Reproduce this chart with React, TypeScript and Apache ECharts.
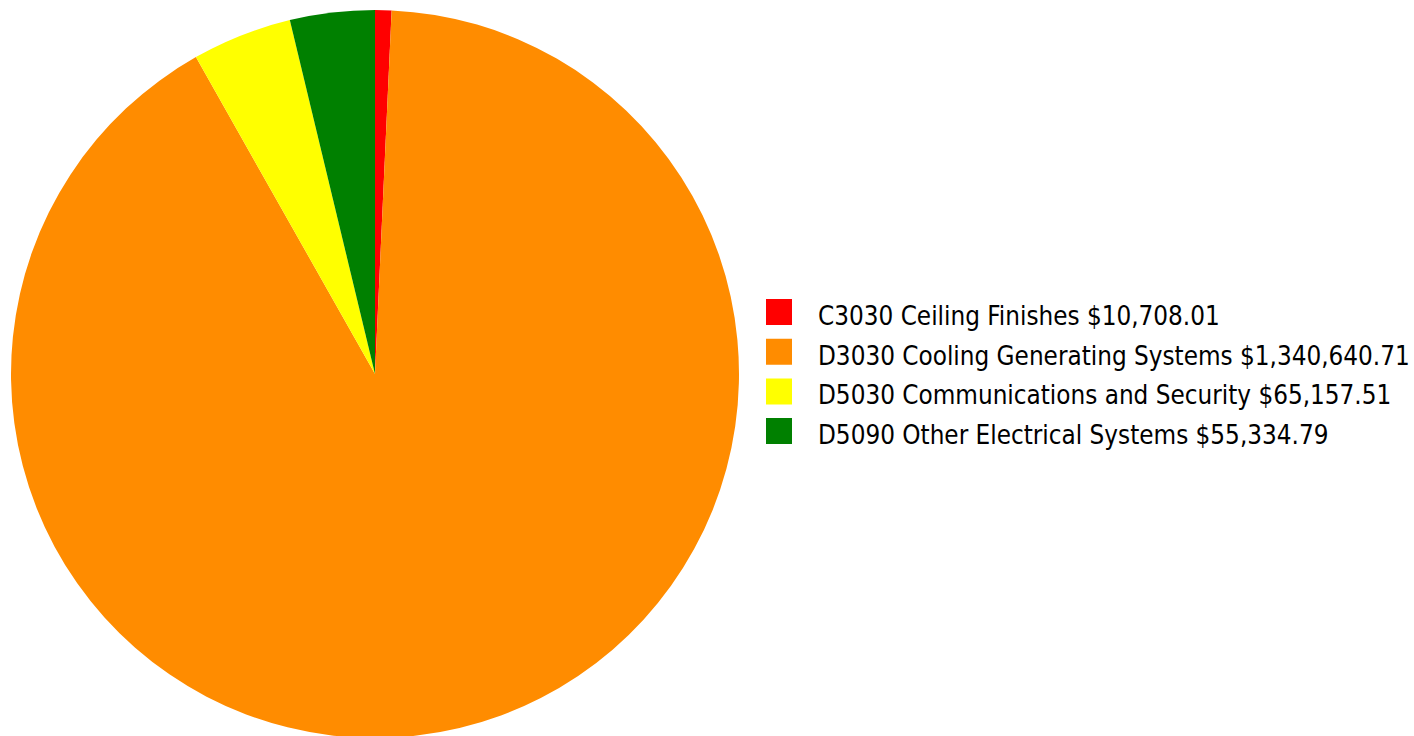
import React, { useEffect, useRef } from "react";
import * as echarts from "echarts";

const categories = [
  "C3030 Ceiling Finishes",
  "D3030 Cooling Generating Systems",
  "D5030 Communications and Security",
  "D5090 Other Electrical Systems",
];
const values = [10708.01, 1340640.71, 65157.51, 55334.79];
const colors = ["#FF0000", "#FF8C00", "#FFFF00", "#008000"];

const fmt = (v: number) =>
  "$" + v.toLocaleString("en-US", { minimumFractionDigits: 2, maximumFractionDigits: 2 });

export default function App() {
  const ref = useRef<HTMLDivElement>(null);
  useEffect(() => {
    if (!ref.current) return;
    const chart = echarts.init(ref.current, undefined, { renderer: "svg" });
    chart.setOption({
      animation: false,
      color: colors,
      legend: {
        orient: "vertical",
        left: 766,
        top: 299,
        padding: 0,
        itemWidth: 26,
        itemHeight: 34,
        itemGap: 5.7,
        icon: "path://M0,0L26,0L26,26L0,26ZM0,34L0.01,34",
        selectedMode: false,
        itemStyle: { borderWidth: 0 },
        formatter: (name: string) => {
          const i = categories.indexOf(name);
          return name + " " + fmt(values[i]);
        },
        textStyle: {
          fontFamily: "DejaVu Sans Condensed",
          fontSize: 25.8,
          color: "#000",
          padding: [0, 0, 0, 21],
          lineHeight: 26,
        },
      },
      series: [
        {
          type: "pie",
          center: [375, 374],
          radius: [0, 364],
          startAngle: 90,
          clockwise: true,
          label: { show: false },
          labelLine: { show: false },
          itemStyle: { borderWidth: 0 },
          emphasis: { disabled: true },
          data: categories.map((n, i) => ({ name: n, value: values[i] })),
        },
      ],
    });
    return () => chart.dispose();
  }, []);
  return (
    <div
      ref={ref}
      style={{ position: "absolute", left: 0, top: 0, width: 1414, height: 736 }}
    />
  );
}
